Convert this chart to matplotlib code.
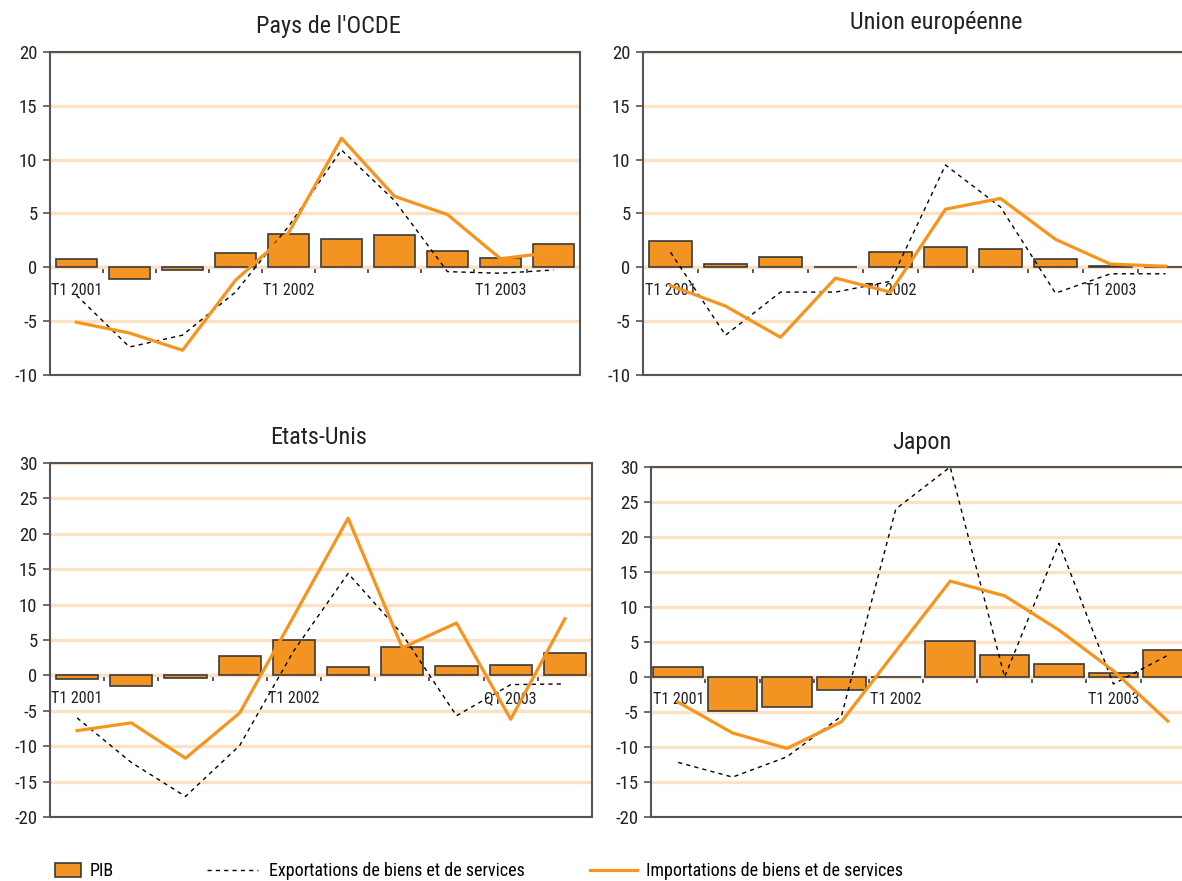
import matplotlib
matplotlib.use('Agg')
import matplotlib.pyplot as plt
from matplotlib.patches import Patch
from matplotlib.lines import Line2D
import numpy as np

plt.rcParams['font.family'] = ['Roboto Condensed', 'Liberation Sans', 'DejaVu Sans']
plt.rcParams['axes.unicode_minus'] = False

# quarters T1 2001 .. T2 2003
quarters = ['T1 2001', 'T2 2001', 'T3 2001', 'T4 2001', 'T1 2002',
            'T2 2002', 'T3 2002', 'T4 2002', 'T1 2003', 'T2 2003']

ocde_pib = [0.8, -1.1, -0.25, 1.3, 3.1, 2.6, 3.0, 1.55, 0.9, 2.2]
ocde_exp = [-2.6, -7.4, -6.3, -2.3, 3.8, 10.9, 6.2, -0.4, -0.55, -0.25]
ocde_imp = [-5.1, -6.1, -7.7, -1.2, 3.2, 12.0, 6.6, 4.9, 0.8, 1.4]

ue_pib = [2.45, 0.3, 0.95, 0.05, 1.4, 1.85, 1.7, 0.75, 0.1, 0.0]
ue_exp = [1.4, -6.3, -2.3, -2.3, -1.3, 9.5, 5.6, -2.4, -0.6, -0.6]
ue_imp = [-1.7, -3.6, -6.5, -1.0, -2.3, 5.4, 6.4, 2.6, 0.3, 0.1]

us_pib = [-0.55, -1.55, -0.3, 2.8, 5.05, 1.25, 4.05, 1.35, 1.45, 3.15]
us_exp = [-6.0, -12.3, -17.1, -9.9, 3.5, 14.4, 5.8, -5.7, -1.3, -1.2]
us_imp = [-7.8, -6.7, -11.7, -5.3, 8.4, 22.2, 3.9, 7.4, -6.2, 8.0]

jp_pib = [1.5, -4.9, -4.35, -1.85, 0.05, 5.2, 3.1, 1.8, 0.6, 3.9]
jp_exp = [-12.2, -14.3, -11.4, -5.6, 24.0, 30.0, 0.0, 19.1, -1.0, 3.1]
jp_imp = [-3.6, -8.0, -10.2, -6.4, 3.7, 13.7, 11.6, 6.7, 0.9, -6.3]

W, H = 1182, 881
ORANGE = '#F7941D'
BAR = '#F39422'
DARK = '#3a3a3a'
SPINE = '#555555'
GRID = '#FDE1C4'

fig = plt.figure(figsize=(W / 100, H / 100), dpi=100)


def panel(box, title, tpos, pib, exp, imp, ylim, barw, q3label='T1 2003'):
    l, t, r, b = box
    ax = fig.add_axes([l / W, 1 - b / H, (r - l) / W, (b - t) / H])
    x = np.arange(len(quarters))
    ax.bar(x, pib, width=barw, color=BAR, edgecolor=DARK, linewidth=1.2, zorder=3)
    ax.plot(x, exp, color='black', lw=1.0, ls=(0, (3, 3)), zorder=4, clip_on=False)
    ax.plot(x, imp, color=ORANGE, lw=2.3, zorder=5)
    ax.set_xlim(-0.5, len(quarters) - 0.5)
    ax.set_ylim(*ylim)
    ax.set_yticks(np.arange(ylim[0], ylim[1] + 1, 5))
    ax.yaxis.grid(True, color=GRID, lw=2.4, zorder=0)
    ax.set_axisbelow(True)
    ax.tick_params(axis='y', direction='out', length=5, width=1.2, color=SPINE,
                   labelsize=13.5, labelcolor='#222222', pad=4)
    ax.set_xticks([])
    for s in ax.spines.values():
        s.set_color(SPINE)
        s.set_linewidth(1.5)
    # zero line with category ticks
    frac = (0 - ylim[0]) / (ylim[1] - ylim[0])
    sec = ax.secondary_xaxis(frac)
    sec.spines['bottom'].set_color(DARK)
    sec.spines['bottom'].set_linewidth(1.5)
    sec.spines['bottom'].set_zorder(6)
    sec.set_xticks(x[:-1] + 0.5)
    sec.set_xticklabels([])
    sec.set_xticks([0, 4, 8], minor=True)
    sec.set_xticklabels([quarters[0], quarters[4], q3label], minor=True)
    sec.tick_params(which='major', direction='out', length=4, width=1.2, color=DARK)
    sec.tick_params(which='minor', length=0, labelsize=11.5, labelcolor='#222222', pad=11)
    fig.text(tpos[0] / W, 1 - tpos[1] / H, title, ha='center', va='center',
             fontsize=17.5, color='#222222')
    return ax


panel((50, 52, 580, 375), "Pays de l'OCDE", (328, 27), ocde_pib, ocde_exp, ocde_imp, (-10, 20), 0.76)
panel((643, 52, 1193, 375), "Union européenne", (936, 23), ue_pib, ue_exp, ue_imp, (-10, 20), 0.77)
panel((50, 463, 592, 817), "Etats-Unis", (319, 438), us_pib, us_exp, us_imp, (-20, 30), 0.78, 'Q1 2003')
panel((651, 467, 1195, 817), "Japon", (922, 442), jp_pib, jp_exp, jp_imp, (-20, 30), 0.91)

ly = 1 - 871 / H
h1 = Patch(facecolor=BAR, edgecolor=DARK, linewidth=1.2)
h2 = Line2D([], [], color='black', lw=1.0, ls=(0, (3, 3)))
h3 = Line2D([], [], color=ORANGE, lw=2.3)
for h, lab, x0, hl, tp, hh in [(h1, 'PIB', 55, 1.45, 0.45, 0.8),
                               (h2, 'Exportations de biens et de services', 207, 2.8, 0.65, 0.7),
                               (h3, 'Importations de biens et de services', 590, 2.6, 0.5, 0.7)]:
    fig.legend([h], [lab], loc='center left', bbox_to_anchor=(x0 / W, ly),
               frameon=False, fontsize=13, handlelength=hl, handleheight=hh,
               handletextpad=tp, borderpad=0, borderaxespad=0)

fig.savefig('out.png', dpi=100)
